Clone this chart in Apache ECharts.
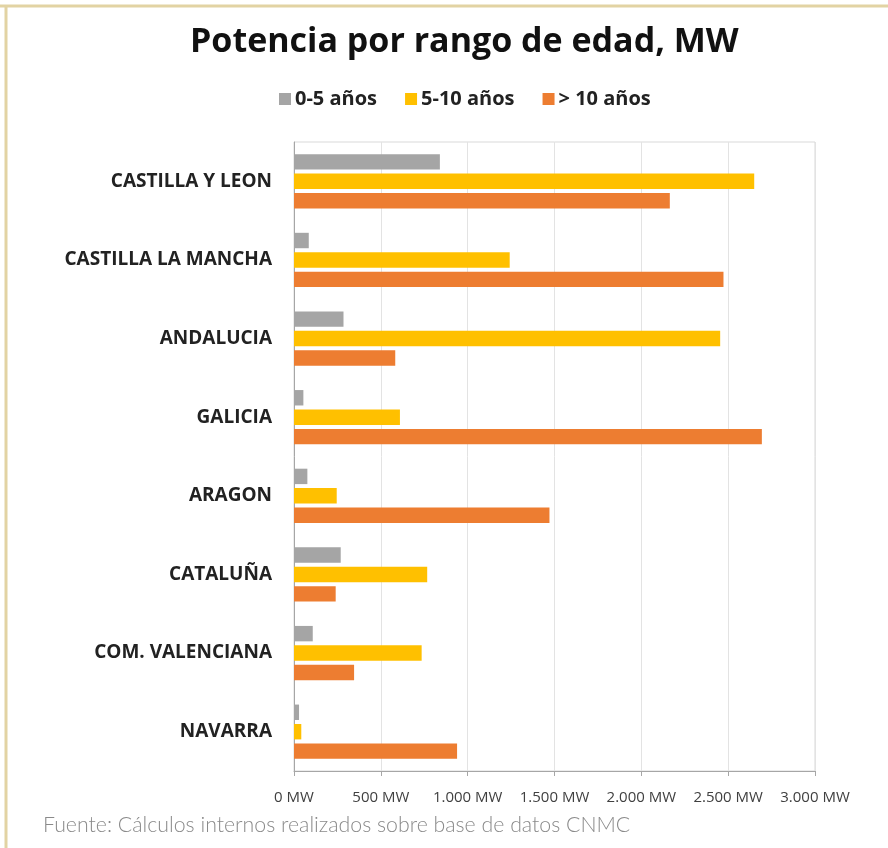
<!DOCTYPE html>
<html>
<head>
<meta charset="utf-8">
<script src="https://cdn.jsdelivr.net/npm/echarts@6/dist/echarts.min.js"></script>
<style>
  html, body { margin: 0; padding: 0; background: #fff; }
  #main { width: 888px; height: 848px; }
</style>
</head>
<body>
<div id="main"></div>
<script>
var regiones = ['CASTILLA Y LEON', 'CASTILLA LA MANCHA', 'ANDALUCIA', 'GALICIA', 'ARAGON', 'CATALUÑA', 'COM. VALENCIANA', 'NAVARRA'];
var edad0a5 = [840, 85, 285, 54, 77, 269, 108, 29];
var edad5a10 = [2650, 1242, 2454, 610, 246, 767, 735, 42];
var edadMas10 = [2164, 2473, 583, 2694, 1471, 240, 346, 939];
var nombresSeries = ['0-5 años', '5-10 años', '> 10 años'];
var colores = ['#a5a5a5', '#ffc000', '#ed7d31'];

var myChart = echarts.init(document.getElementById('main'));

function formatoMW(v) {
	// separador de miles con punto
	var s = String(v).replace(/\B(?=(\d{3})+(?!\d))/g, '.');
	return s + ' MW';
}

var option = {
	animation: false,
	color: colores,
	title: {
		text: 'Potencia por rango de edad, MW',
		left: 185,
		top: 20,
		textStyle: { fontFamily: 'Open Sans', fontWeight: 'bold', fontSize: 34, color: '#111' }
	},
	legend: {
		data: nombresSeries,
		top: 84,
		left: 274,
		itemWidth: 12,
		itemHeight: 12,
		itemGap: 28,
		icon: 'rect',
		textStyle: { fontFamily: 'Open Sans', fontWeight: 'bold', fontSize: 20, color: '#222', padding: [0, 0, 0, -1] }
	},
	graphic: [
		{ type: 'line', shape: { x1: 0, y1: 6, x2: 888, y2: 6 }, style: { stroke: '#e2d3a3', lineWidth: 3 } },
		{ type: 'line', shape: { x1: 6, y1: 6, x2: 6, y2: 848 }, style: { stroke: '#e2d3a3', lineWidth: 3 } },
		{
			type: 'text', left: 43, top: 815,
			style: {
				text: 'Fuente: Cálculos internos realizados sobre base de datos CNMC',
				fontFamily: 'Lato', fontWeight: 300, fontSize: 21.3, fill: '#8a8a8a'
			}
		}
	],
	grid: {
		left: 294, right: 73, top: 142, bottom: 77,
		show: true, borderColor: '#d9d9d9', borderWidth: 1
	},
	xAxis: {
		type: 'value',
		min: 0, max: 3000, interval: 500,
		axisLine: { show: true, lineStyle: { color: '#a6a6a6' } },
		axisTick: { show: true, length: 5, lineStyle: { color: '#a6a6a6' } },
		splitLine: { lineStyle: { color: '#e3e3e3' } },
		axisLabel: {
			formatter: formatoMW, margin: 19,
			fontFamily: 'Open Sans', fontSize: 15, color: '#404040'
		}
	},
	yAxis: {
		type: 'category',
		data: regiones,
		inverse: true,
		axisLine: { show: true, lineStyle: { color: '#a6a6a6' } },
		axisTick: { show: false },
		axisLabel: {
			margin: 22,
			fontFamily: 'Open Sans', fontWeight: 'bold', fontSize: 19, color: '#222'
		}
	},
	series: [
		{ name: nombresSeries[0], type: 'bar', data: edad0a5, barGap: '26%', barCategoryGap: '31%' },
		{ name: nombresSeries[1], type: 'bar', data: edad5a10 },
		{ name: nombresSeries[2], type: 'bar', data: edadMas10 }
	]
};

myChart.setOption(option);
</script>
</body>
</html>
